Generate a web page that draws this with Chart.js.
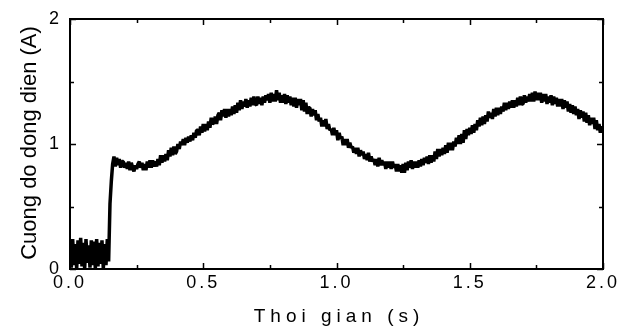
<!DOCTYPE html>
<html>
<head>
<meta charset="utf-8">
<script src="https://cdn.jsdelivr.net/npm/chart.js@4.4.0/dist/chart.umd.min.js"></script>
<style>
  html, body { margin: 0; padding: 0; background: #fff; }
  canvas { display: block; }
</style>
</head>
<body>
<canvas id="currentChart" width="627" height="329"></canvas>
<script>
// sampling interval of the recorded trace (s)
const sampleStep = 0.005;

// current (A), one value per sample (20 per row = 0.1 s)
const current = [
    0.22, 0.01, 0.24, 0.03, 0.20, 0.00, 0.23, 0.04, 0.25, 0.02, 0.21, 0.00, 0.24, 0.05, 0.19, 0.01, 0.23, 0.03, 0.22, 0.00,
    0.24, 0.02, 0.21, 0.04, 0.23, 0.00, 0.20, 0.03, 0.24, 0.06, 0.52, 0.70, 0.84, 0.90, 0.82, 0.89, 0.83, 0.88, 0.81, 0.86,
    0.86, 0.81, 0.85, 0.80, 0.86, 0.79, 0.85, 0.81, 0.78, 0.83, 0.80, 0.84, 0.86, 0.81, 0.85, 0.79, 0.84, 0.79, 0.86, 0.81,
    0.87, 0.81, 0.87, 0.82, 0.86, 0.82, 0.88, 0.83, 0.91, 0.85, 0.91, 0.86, 0.92, 0.87, 0.95, 0.90, 0.97, 0.91, 0.98, 0.92,
    0.94, 1.00, 0.96, 1.02, 0.99, 1.04, 0.99, 1.05, 1.01, 1.06, 1.02, 1.07, 1.03, 1.09, 1.05, 1.11, 1.11, 1.07, 1.14, 1.09,
    1.16, 1.10, 1.16, 1.11, 1.18, 1.13, 1.21, 1.16, 1.17, 1.22, 1.16, 1.23, 1.25, 1.19, 1.27, 1.22, 1.28, 1.21, 1.28, 1.22,
    1.28, 1.23, 1.30, 1.24, 1.31, 1.25, 1.33, 1.27, 1.35, 1.28, 1.34, 1.30, 1.36, 1.29, 1.35, 1.30, 1.37, 1.31, 1.38, 1.32,
    1.31, 1.38, 1.32, 1.37, 1.31, 1.38, 1.33, 1.39, 1.35, 1.40, 1.33, 1.41, 1.34, 1.40, 1.34, 1.43, 1.35, 1.41, 1.33, 1.39,
    1.33, 1.40, 1.32, 1.39, 1.33, 1.38, 1.31, 1.37, 1.30, 1.37, 1.29, 1.36, 1.31, 1.36, 1.27, 1.35, 1.26, 1.33, 1.24, 1.29,
    1.29, 1.22, 1.28, 1.23, 1.27, 1.19, 1.24, 1.18, 1.21, 1.14, 1.19, 1.14, 1.20, 1.12, 1.16, 1.11, 1.12, 1.07, 1.13, 1.07,
    1.11, 1.03, 1.09, 1.04, 1.06, 0.99, 1.04, 0.99, 1.04, 0.97, 1.01, 0.97, 0.98, 0.93, 0.97, 0.92, 0.97, 0.90, 0.95, 0.91,
    0.94, 0.88, 0.92, 0.87, 0.93, 0.86, 0.90, 0.86, 0.88, 0.83, 0.88, 0.82, 0.89, 0.83, 0.87, 0.83, 0.86, 0.80, 0.86, 0.81,
    0.86, 0.80, 0.86, 0.81, 0.84, 0.78, 0.84, 0.78, 0.83, 0.77, 0.84, 0.77, 0.85, 0.79, 0.86, 0.81, 0.87, 0.80, 0.86, 0.81,
    0.86, 0.81, 0.87, 0.82, 0.88, 0.83, 0.89, 0.85, 0.90, 0.84, 0.91, 0.85, 0.91, 0.86, 0.94, 0.88, 0.96, 0.90, 0.96, 0.91,
    0.97, 0.92, 0.99, 0.93, 1.01, 0.95, 1.01, 0.95, 1.02, 0.98, 1.05, 1.00, 1.07, 1.00, 1.08, 1.01, 1.11, 1.04, 1.12, 1.07,
    1.13, 1.08, 1.15, 1.09, 1.16, 1.11, 1.19, 1.14, 1.21, 1.15, 1.22, 1.16, 1.23, 1.18, 1.26, 1.21, 1.25, 1.20, 1.28, 1.22,
    1.29, 1.23, 1.29, 1.24, 1.30, 1.26, 1.33, 1.27, 1.33, 1.28, 1.34, 1.29, 1.35, 1.29, 1.35, 1.30, 1.37, 1.31, 1.38, 1.32,
    1.32, 1.39, 1.33, 1.38, 1.34, 1.40, 1.34, 1.41, 1.34, 1.42, 1.35, 1.41, 1.35, 1.41, 1.33, 1.40, 1.34, 1.40, 1.32, 1.38,
    1.33, 1.39, 1.31, 1.38, 1.32, 1.37, 1.30, 1.36, 1.30, 1.36, 1.28, 1.35, 1.29, 1.34, 1.26, 1.32, 1.25, 1.31, 1.24, 1.30,
    1.23, 1.28, 1.20, 1.27, 1.21, 1.26, 1.18, 1.25, 1.17, 1.23, 1.15, 1.21, 1.16, 1.21, 1.12, 1.19, 1.11, 1.16, 1.09, 1.14,
    1.12
];

// tick labels
const xLabelValues = [0, 0.5, 1, 1.5, 2];
const xLabels = ["0.0", "0.5", "1.0", "1.5", "2.0"];
const yLabelValues = [0, 1, 2];
const yLabels = ["0", "1", "2"];

const xTitle = "Thoi gian (s)";
const yTitle = "Cuong do dong dien (A)";

const fontFamily = '"Liberation Sans", Arial, sans-serif';

const points = current.map((v, i) => ({ x: i * sampleStep, y: v }));

// box frame, inward ticks and the two axis titles
const framePlugin = {
    id: "frame",
    beforeDraw(chart) {
        chart.ctx.letterSpacing = "3px";
    },
    afterDraw(chart) {
        const ctx = chart.ctx;
        const a = chart.chartArea;
        const xs = chart.scales.x;
        const ys = chart.scales.y;
        ctx.save();
        ctx.strokeStyle = "#000";
        ctx.lineWidth = 2;
        ctx.strokeRect(a.left, a.top, a.right - a.left, a.bottom - a.top);

        ctx.lineWidth = 1.5;
        ctx.beginPath();
        xs.ticks.forEach(t => {
            const len = xLabelValues.includes(t.value) ? 6 : 4;
            const px = Math.round(xs.getPixelForValue(t.value)) + 0.5;
            ctx.moveTo(px, a.bottom);
            ctx.lineTo(px, a.bottom - len);
            ctx.moveTo(px, a.top);
            ctx.lineTo(px, a.top + len);
        });
        ys.ticks.forEach(t => {
            const len = yLabelValues.includes(t.value) ? 6 : 4;
            const py = Math.round(ys.getPixelForValue(t.value)) + 0.5;
            ctx.moveTo(a.left, py);
            ctx.lineTo(a.left + len, py);
            ctx.moveTo(a.right, py);
            ctx.lineTo(a.right - len, py);
        });
        ctx.stroke();

        ctx.fillStyle = "#000";
        ctx.textAlign = "center";
        ctx.textBaseline = "alphabetic";
        ctx.letterSpacing = "5px";
        ctx.font = "19px " + fontFamily;
        ctx.fillText(xTitle, (a.left + a.right) / 2 + 2.5, 322);

        ctx.letterSpacing = "0px";
        ctx.font = "22px " + fontFamily;
        ctx.translate(36, (a.top + a.bottom) / 2 - 1);
        ctx.rotate(-Math.PI / 2);
        ctx.fillText(yTitle, 0, 0);
        ctx.restore();
        ctx.letterSpacing = "3px";
    }
};

new Chart(document.getElementById("currentChart").getContext("2d"), {
    type: "line",
    data: {
        datasets: [
            {
                data: points,
                borderColor: "#000",
                borderWidth: 3.5,
                borderJoinStyle: "bevel",
                pointRadius: 0,
                tension: 0,
                fill: false,
            },
        ],
    },
    options: {
        responsive: false,
        animation: false,
        devicePixelRatio: 1,
        layout: { padding: { left: 0, top: 19, right: 24, bottom: 0 } },
        plugins: {
            legend: { display: false },
            tooltip: { enabled: false },
        },
        scales: {
            x: {
                type: "linear",
                min: 0,
                max: 2,
                grid: { display: false, drawTicks: false },
                border: { display: false },
                ticks: {
                    stepSize: 0.25,
                    autoSkip: false,
                    maxRotation: 0,
                    padding: 3,
                    color: "#000",
                    font: { family: fontFamily, size: 18 },
                    callback: (v) => {
                        const i = xLabelValues.indexOf(v);
                        return i >= 0 ? xLabels[i] : "";
                    },
                },
                afterFit(scale) { scale.height = 60; },
            },
            y: {
                min: 0,
                max: 2,
                grid: { display: false, drawTicks: false },
                border: { display: false },
                ticks: {
                    stepSize: 0.5,
                    autoSkip: false,
                    padding: 8,
                    color: "#000",
                    font: { family: fontFamily, size: 18 },
                    callback: (v) => {
                        const i = yLabelValues.indexOf(v);
                        return i >= 0 ? yLabels[i] : "";
                    },
                },
                afterFit(scale) { scale.width = 70; },
            },
        },
    },
    plugins: [framePlugin],
});
</script>
</body>
</html>
